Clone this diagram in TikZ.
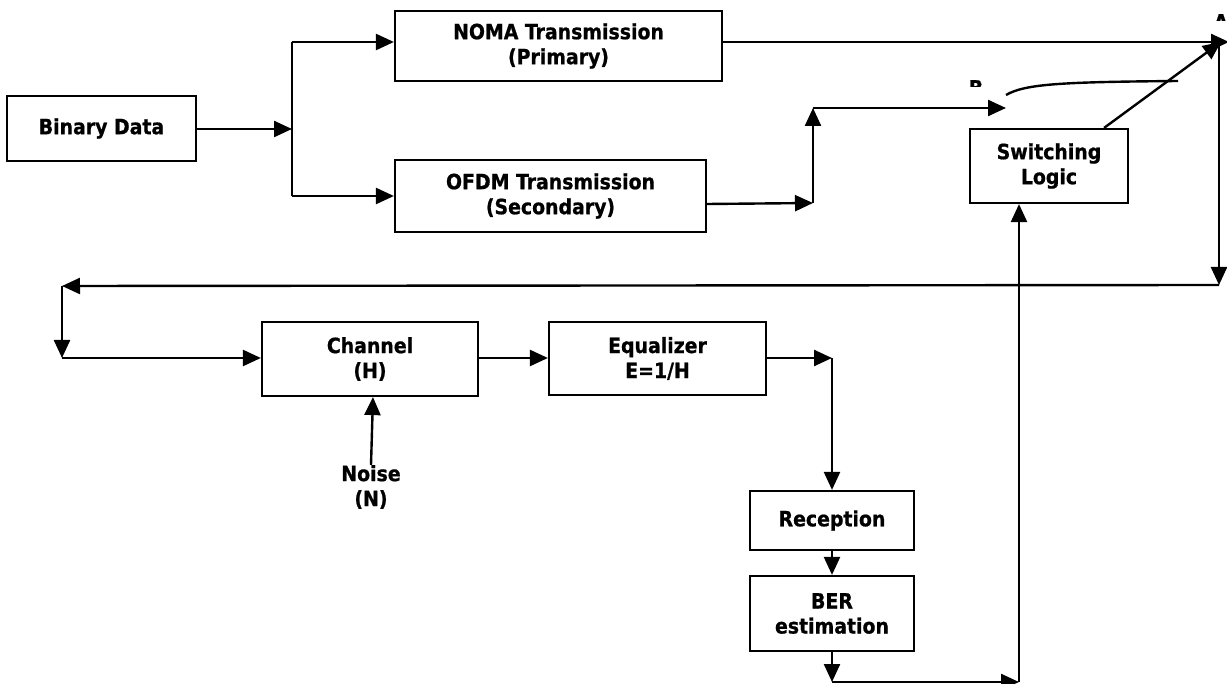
\documentclass[tikz,border=0pt]{standalone}
\usepackage{fontspec}
\setmainfont{DejaVu Sans}
\newfontfamily\lblfont{DejaVu Sans Condensed Bold}[FakeBold=0.8]
\usetikzlibrary{arrows.meta,calc}
\begin{document}
\begin{tikzpicture}[x=1pt,y=-1pt,
  box/.style={draw,line width=2.2pt,align=center,inner sep=0pt,font=\fontsize{21}{25}\lblfont},
  lbl/.style={align=center,inner sep=0pt,font=\fontsize{21}{25}\lblfont},
  ln/.style={line width=2.4pt},
  arr/.style={line width=2.4pt,-{Triangle[length=18pt,width=16pt]}}]
\useasboundingbox (0,0) rectangle (1227,684);
% boxes
\node[box,minimum width=189pt,minimum height=65pt] (bd) at (101.5,128.5) {Binary Data};
\node[box,minimum width=327pt,minimum height=70pt] (noma) at (558.5,46) {NOMA Transmission\\(Primary)};
\node[box,minimum width=311pt,minimum height=72pt] (ofdm) at (550.5,196) {OFDM Transmission\\(Secondary)};
\node[box,minimum width=158pt,minimum height=74pt] (sw) at (1049,166) {Switching\\Logic};
\node[box,minimum width=216pt,minimum height=74pt] (ch) at (370,359) {Channel\\(H)};
\node[box,minimum width=217pt,minimum height=73pt] (eq) at (657.5,358.5) {Equalizer\\E=1/H};
\node[box,minimum width=164pt,minimum height=59pt] (rec) at (832,520.5) {Reception};
\node[box,minimum width=164pt,minimum height=75pt] (ber) at (832,613.5) {BER\\estimation};
\node[lbl] (noise) at (371,487) {Noise\\(N)};
% clipped labels
\begin{scope}
\clip (960,70) rectangle (995,87);
\node[lbl,anchor=north] (lb) at (976,80) {B};
\end{scope}
\begin{scope}
\clip (1205,5) rectangle (1227,21);
\node[lbl,anchor=north] (la) at (1221,14) {A};
\end{scope}
% coordinates
\coordinate (s) at (292,129);
\coordinate (s1) at (292,42);
\coordinate (s2) at (292,196);
\coordinate (c1) at (813,203);
\coordinate (c2) at (813,108);
\coordinate (bpt) at (1006,108);
\coordinate (sw1) at (1006,95);
\coordinate (sw2) at (1178,81);
\coordinate (apt) at (1229,42);
\coordinate (atip) at (1221,42);
\coordinate (a1) at (1219,42);
\coordinate (a2) at (1219,285);
\coordinate (l1) at (62,286);
\coordinate (l2) at (62,358);
\coordinate (b2) at (1019,682);
% connectors
\draw[arr] (bd.east |- s) -- (s);
\draw[ln] (s1) -- (s2);
\draw[arr] (s1) -- (s1 -| noma.west);
\draw[arr] (s2) -- (ofdm.west);
\draw[arr] ($(ofdm.east)+(0,8)$) -- (c1);
\draw[arr] (c1) -- (c2);
\draw[arr] (c2) -- (bpt);
\draw[ln] (sw1) .. controls (1025,84) and (1060,82) .. (sw2);
\draw[arr] (noma.east |- apt) -- (apt);
\draw[arr] ($(sw.north east)+(-25,0)$) -- (atip);
\draw[arr] (a1) -- (a2);
\draw[arr] (a2) -- (l1);
\draw[arr] (l1) -- (l2);
\draw[arr] (l2) -- (ch.west |- l2);
\draw[arr] (ch.east |- l2) -- (eq.west |- l2);
\draw[arr] (eq.east |- l2) -- (rec.north |- l2);
\draw[arr] (rec.north |- l2) -- (rec.north);
\draw[arr] (rec.south) -- (ber.north);
\draw[arr] (ber.south) -- (ber.south |- b2);
\draw[arr] (ber.south |- b2) -- (b2);
\draw[arr] (b2) -- (b2 |- sw.south);
\draw[arr] (noise.north) -- ($(ch.south)+(3,0)$);
\end{tikzpicture}
\end{document}
